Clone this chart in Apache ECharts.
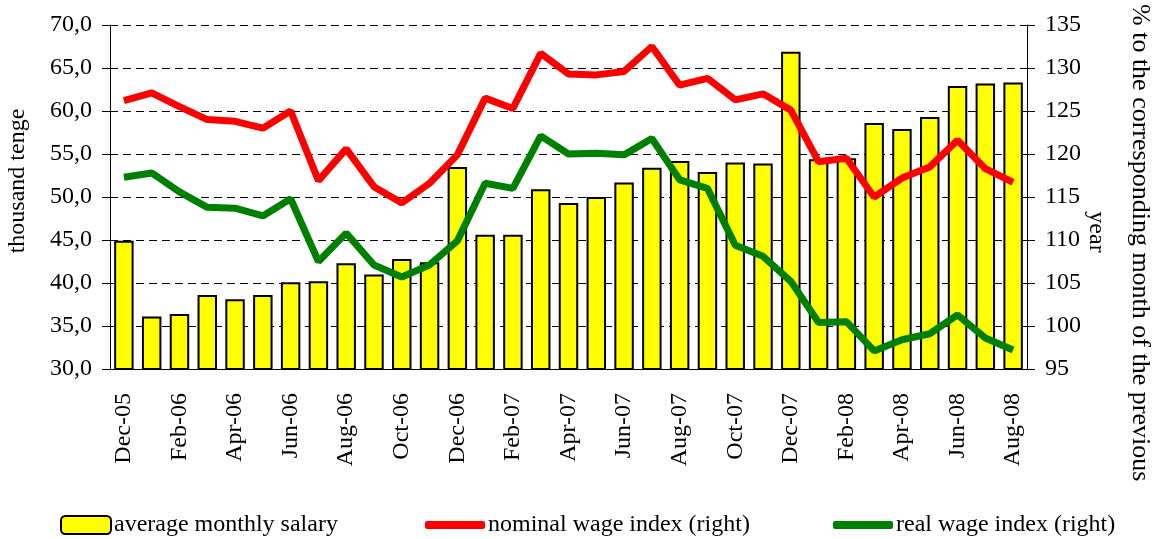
<!DOCTYPE html>
<html>
<head>
<meta charset="utf-8">
<script src="https://cdn.jsdelivr.net/npm/echarts@6/dist/echarts.min.js"></script>
<style>
  html, body { margin: 0; padding: 0; background: #fff; }
  #chart { width: 1152px; height: 539px; }
</style>
</head>
<body>
<div id="chart"></div>
<script>
// months Dec-05 .. Aug-08
const months = ['Dec-05', 'Jan-06', 'Feb-06', 'Mar-06', 'Apr-06', 'May-06', 'Jun-06', 'Jul-06', 'Aug-06', 'Sep-06', 'Oct-06', 'Nov-06',
  'Dec-06', 'Jan-07', 'Feb-07', 'Mar-07', 'Apr-07', 'May-07', 'Jun-07', 'Jul-07', 'Aug-07', 'Sep-07', 'Oct-07', 'Nov-07',
  'Dec-07', 'Jan-08', 'Feb-08', 'Mar-08', 'Apr-08', 'May-08', 'Jun-08', 'Jul-08', 'Aug-08']

// thousand tenge
const salary = [44.9, 36.1, 36.4, 38.6, 38.1, 38.6, 40.1, 40.2, 42.3, 41.0, 42.8, 42.4,
  53.5, 45.6, 45.6, 50.9, 49.3, 50.0, 51.7, 53.4, 54.2, 52.9, 54.0, 53.9,
  66.9, 54.4, 54.5, 58.6, 57.9, 59.3, 62.9, 63.2, 63.3]

// % to the same month of previous year
const nominalIndex = [126.2, 127.1, 125.5, 124.0, 123.8, 123.0, 125.0, 116.9, 120.6, 116.2, 114.3, 116.6,
  119.9, 126.5, 125.3, 131.7, 129.3, 129.2, 129.6, 132.5, 128.0, 128.8, 126.3, 127.0,
  125.1, 119.1, 119.5, 115.0, 117.2, 118.5, 121.6, 118.3, 116.7]

const realIndex = [117.3, 117.8, 115.6, 113.8, 113.7, 112.8, 114.8, 107.5, 110.8, 107.1, 105.7, 107.1,
  109.9, 116.6, 116.0, 122.1, 120.0, 120.1, 119.9, 121.8, 117.0, 116.0, 109.4, 108.1,
  105.2, 100.4, 100.5, 97.1, 98.4, 99.1, 101.3, 98.6, 97.2]

const font = 'Liberation Serif'

const chart = echarts.init(document.getElementById('chart'))

const legendText = { fontFamily: font, fontSize: 24, color: '#000', padding: [0, 0, 0, -2] }

chart.setOption({
  animation: false,
  textStyle: { fontFamily: font },
  grid: {
    left: 110,
    right: 125,
    top: 25,
    bottom: 170
  },
  legend: [
    { data: ['average monthly salary'], left: 55, top: 508, itemWidth: 50, itemHeight: 18, textStyle: legendText },
    { data: [{ name: 'nominal wage index (right)', icon: 'roundRect' }], left: 420, top: 508, itemWidth: 60, itemHeight: 8, textStyle: legendText },
    { data: [{ name: 'real wage index (right)', icon: 'roundRect' }], left: 828, top: 508, itemWidth: 60, itemHeight: 8, textStyle: legendText }
  ],
  xAxis: {
    type: 'category',
    data: months,
    boundaryGap: true,
    axisLine: { lineStyle: { color: '#000', width: 1 } },
    axisTick: { interval: 1, length: 8, lineStyle: { color: '#000' } },
    axisLabel: {
      interval: 1,
      rotate: 90,
      margin: 24,
      fontFamily: font,
      fontSize: 24,
      color: '#000'
    }
  },
  yAxis: [
    {
      type: 'value',
      min: 30,
      max: 70,
      interval: 5,
      axisLine: { show: true, lineStyle: { color: '#000' } },
      axisTick: { show: true, length: 8, lineStyle: { color: '#000' } },
      axisLabel: {
        margin: 18,
        fontFamily: font,
        fontSize: 24,
        color: '#000',
        formatter: v => v.toFixed(1).replace('.', ',')
      },
      splitLine: { show: true, lineStyle: { color: '#000', type: [8, 5], width: 1 } }
    },
    {
      type: 'value',
      min: 95,
      max: 135,
      interval: 5,
      position: 'right',
      axisLine: { show: true, lineStyle: { color: '#000' } },
      axisTick: { show: true, length: 8, lineStyle: { color: '#000' } },
      axisLabel: { margin: 18, fontFamily: font, fontSize: 24, color: '#000' },
      splitLine: { show: false }
    }
  ],
  series: [
    {
      name: 'average monthly salary',
      type: 'bar',
      data: salary,
      yAxisIndex: 0,
      barCategoryGap: '30%',
      itemStyle: { color: '#ffff00', borderColor: '#000', borderWidth: 2 }
    },
    {
      name: 'nominal wage index (right)',
      type: 'line',
      data: nominalIndex,
      yAxisIndex: 1,
      symbol: 'none',
      itemStyle: { color: '#ff0000' },
      lineStyle: { color: '#ff0000', width: 7 }
    },
    {
      name: 'real wage index (right)',
      type: 'line',
      data: realIndex,
      yAxisIndex: 1,
      symbol: 'none',
      itemStyle: { color: '#008000' },
      lineStyle: { color: '#008000', width: 7 }
    }
  ],
  graphic: [
    {
      type: 'text',
      x: 18,
      y: 181,
      rotation: Math.PI / 2,
      style: { text: 'thousand tenge', font: '24px "Liberation Serif"', fill: '#000', textAlign: 'center', textVerticalAlign: 'middle' }
    },
    {
      type: 'text',
      x: 1140,
      y: 4,
      rotation: -Math.PI / 2,
      style: { text: '% to the corresponding month of the previous', font: '26px "Liberation Serif"', fill: '#000', textAlign: 'left', textVerticalAlign: 'middle' }
    },
    {
      type: 'text',
      x: 1096,
      y: 232,
      rotation: -Math.PI / 2,
      style: { text: 'year', font: '24px "Liberation Serif"', fill: '#000', textAlign: 'center', textVerticalAlign: 'middle' }
    }
  ]
})
</script>
</body>
</html>
